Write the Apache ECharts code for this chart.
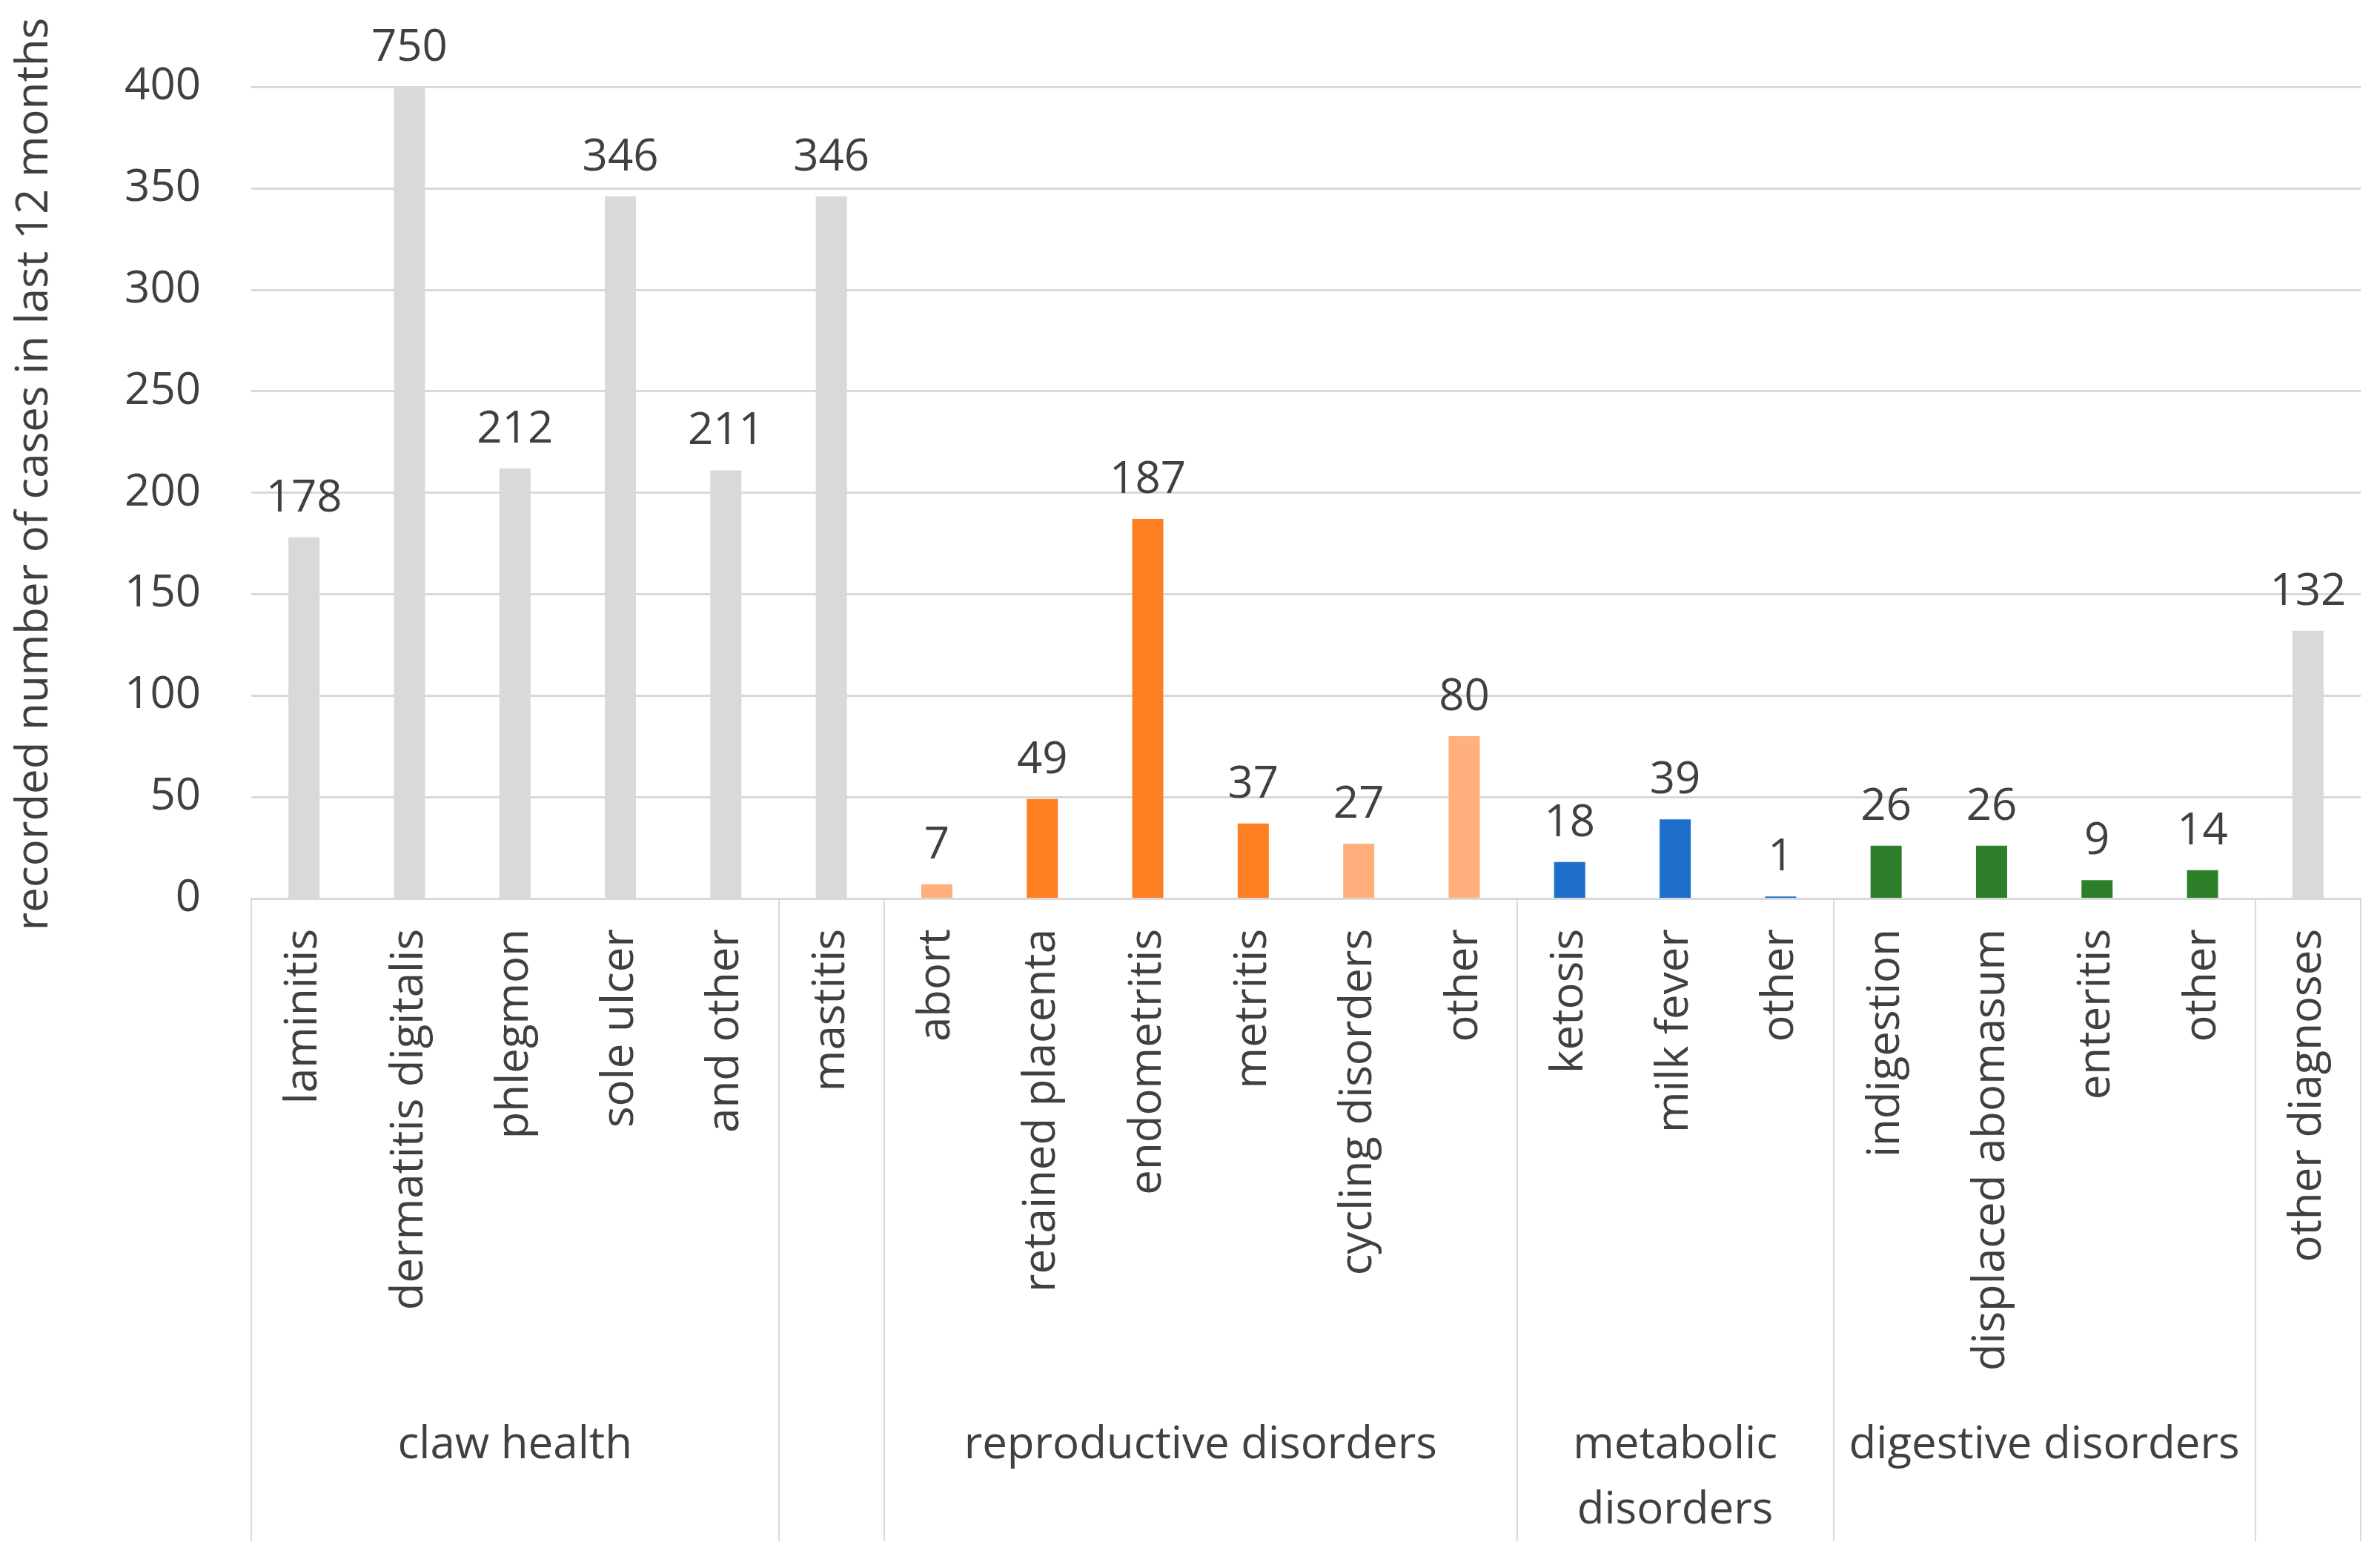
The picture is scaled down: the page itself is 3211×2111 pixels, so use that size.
<!DOCTYPE html>
<html>
<head>
<meta charset="utf-8">
<script src="https://cdn.jsdelivr.net/npm/echarts@6/dist/echarts.min.js"></script>
<style>
  html, body { margin: 0; padding: 0; background: #fff; }
  #chart { width: 3211px; height: 2111px; }
</style>
</head>
<body>
<div id="chart"></div>
<script>
// categories and values
const categories = [
  'laminitis', 'dermatitis digitalis', 'phlegmon', 'sole ulcer', 'and other',
  'mastitis',
  'abort', 'retained placenta', 'endometritis', 'metritis', 'cycling disorders', 'other',
  'ketosis', 'milk fever', 'other',
  'indigestion', 'displaced abomasum', 'enteritis', 'other',
  'other diagnoses'
]
const cases = [178, 750, 212, 346, 211, 346, 7, 49, 187, 37, 27, 80, 18, 39, 1, 26, 26, 9, 14, 132]

// group row under the category labels
const groupNames = ['claw health', '', 'reproductive disorders', 'metabolic\ndisorders', 'digestive disorders', '']
const groupSizes = [5, 1, 6, 3, 4, 1]

const yTicks = { min: 0, max: 400, interval: 50 }

// colour key per bar
const GREY = '#d9d9d9'
const ORANGE = '#fe7f22'
const LIGHT_ORANGE = '#ffb07d'
const BLUE = '#1e6fcc'
const GREEN = '#2e7f2a'
const barColors = [
  GREY, GREY, GREY, GREY, GREY,
  GREY,
  LIGHT_ORANGE, ORANGE, ORANGE, ORANGE, LIGHT_ORANGE, LIGHT_ORANGE,
  BLUE, BLUE, BLUE,
  GREEN, GREEN, GREEN, GREEN,
  GREY
]

const FONT = '"Open Sans", "Noto Sans", sans-serif'
const TEXT = '#404040'
const LINE = '#d9d9d9'

// group boundaries and centres on the category scale
const groupStarts = []
const groupCentres = []
let acc = 0
groupSizes.forEach(n => {
  groupStarts.push(acc)
  groupCentres.push(acc + n / 2)
  acc += n
})

const chart = echarts.init(document.getElementById('chart'))

const option = {
  backgroundColor: '#fff',
  animation: false,
  grid: {
    left: 339,
    right: 26,
    top: 117,
    bottom: 899,
    outerBoundsMode: 'none'
  },
  xAxis: [
    {
      type: 'category',
      data: categories,
      position: 'bottom',
      z: 3, // axis line sits over the bar bases, like the original
      axisLine: { lineStyle: { color: LINE, width: 3 } },
      axisTick: {
        show: true,
        length: 867,
        lineStyle: { color: LINE, width: 2 },
        interval: (index) => groupStarts.includes(index)
      },
      axisLabel: {
        interval: 0,
        rotate: 90,
        margin: 41,
        color: TEXT,
        fontFamily: FONT,
        fontSize: 60
      },
      splitLine: { show: false }
    },
    {
      type: 'value',
      position: 'bottom',
      offset: 694,
      min: 0,
      max: acc,
      interval: 0.5,
      axisLine: { show: false },
      axisTick: { show: false },
      splitLine: { show: false },
      axisLabel: {
        margin: 0,
        color: TEXT,
        fontFamily: FONT,
        fontSize: 60,
        lineHeight: 88,
        align: 'center',
        showMinLabel: true,
        showMaxLabel: true,
        formatter: (v) => {
          const i = groupCentres.findIndex(c => Math.abs(c - v) < 1e-6)
          return i >= 0 ? groupNames[i] : ''
        }
      }
    }
  ],
  yAxis: {
    type: 'value',
    min: yTicks.min,
    max: yTicks.max,
    interval: yTicks.interval,
    name: 'recorded number of cases in last 12 months',
    nameLocation: 'middle',
    nameGap: 262,
    nameTextStyle: {
      color: TEXT,
      fontFamily: FONT,
      fontSize: 60,
      padding: [0, 0, 0, 50]
    },
    axisLine: { show: false },
    axisTick: { show: false },
    axisLabel: {
      margin: 68,
      color: TEXT,
      fontFamily: FONT,
      fontSize: 60
    },
    splitLine: { lineStyle: { color: LINE, width: 3 } }
  },
  series: [
    {
      type: 'bar',
      xAxisIndex: 0,
      barWidth: 42,
      clip: true,
      data: cases.map((v, i) => ({ value: v, itemStyle: { color: barColors[i] } })),
      label: {
        show: true,
        position: 'top',
        distance: 22,
        color: TEXT,
        fontFamily: FONT,
        fontSize: 60
      }
    }
  ]
}

chart.setOption(option)
</script>
</body>
</html>
